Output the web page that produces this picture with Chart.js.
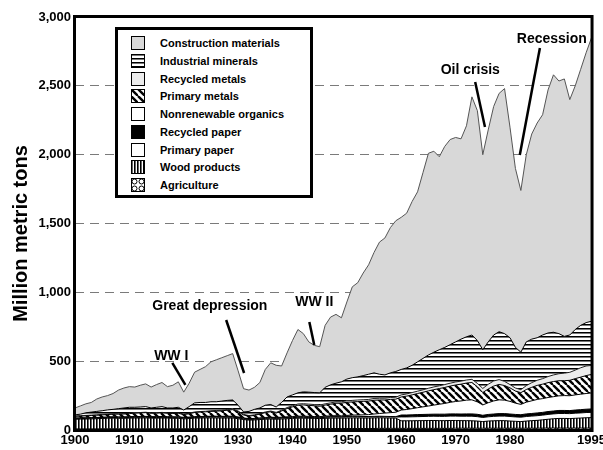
<!DOCTYPE html>
<html>
<head>
<meta charset="utf-8">
<script src="https://cdn.jsdelivr.net/npm/chart.js@4/dist/chart.umd.min.js"></script>
<style>
html,body{margin:0;padding:0;background:#fff;overflow:hidden;width:603px;height:450px;}
#c{position:absolute;left:0;top:0;}
#legend{position:absolute;left:115px;top:27px;width:192px;height:165px;border:3px solid #000;background:#fff;
  font:bold 11px "Liberation Sans",Arial,sans-serif;color:#000;}
.row{position:absolute;left:0;width:190px;height:16px;}
.row canvas{position:absolute;left:13px;top:1px;}
.row span{position:absolute;left:42px;top:0;line-height:16px;white-space:nowrap;}
</style>
</head>
<body>
<canvas id="c" width="609" height="450"></canvas>
<div id="legend"></div>
<script>
// ---------- DATA ----------
const years = Array.from({length: 96}, (_, i) => 1900 + i);
const xTickValues = [1900, 1910, 1920, 1930, 1940, 1950, 1960, 1970, 1980, 1995];
const xTickLabels = ['1900', '1910', '1920', '1930', '1940', '1950', '1960', '1970', '1980', '1995'];
const yTickValues = [0, 500, 1000, 1500, 2000, 2500, 3000];
const yTickLabels = ['0', '500', '1,000', '1,500', '2,000', '2,500', '3,000'];
const yAxisTitle = 'Million metric tons';

const seriesNames = ['Agriculture', 'Wood products', 'Primary paper', 'Recycled paper',
  'Nonrenewable organics', 'Primary metals', 'Recycled metals', 'Industrial minerals', 'Construction materials'];

const agriculture = [
  8,8,8,8,8,9,9,9,9,9, 9,9,9,9,9,9,9,9,9,9,
  9,9,10,10,10,10,10,10,10,10, 10,10,10,10,10,10,10,10,10,10,
  10,10,10,10,10,10,11,11,11,11, 11,11,11,11,11,11,12,12,12,12,
  12,12,12,12,12,12,12,12,12,12, 13,13,13,13,13,13,13,13,13,13,
  13,13,13,13,13,13,14,14,14,14, 14,14,14,14,14,14];
const woodProducts = [
  70,71,72,73,74,75,76,77,76,76, 77,78,78,79,77,77,78,77,76,76,
  72,74,76,77,78,78,78,77,77,77, 72,66,62,63,66,68,70,68,70,72,
  74,76,76,75,74,73,74,75,76,75, 76,77,77,76,76,77,77,76,75,74,
  55,55,55,56,56,57,57,56,56,57, 56,55,55,54,52,48,52,54,55,55,
  52,50,48,52,55,57,60,64,68,70, 70,69,71,73,75,76];
const primaryPaper = [
  4,4,4,4,4,4,4,5,5,5, 5,5,5,5,5,5,5,5,5,5,
  5,5,5,5,5,6,6,6,6,6, 6,5,5,5,5,6,6,6,6,6,
  6,6,6,6,6,6,7,7,7,7, 8,8,8,8,8,8,8,8,8,8,
  28,28,29,29,30,30,31,31,31,32, 32,32,32,33,32,30,31,32,33,33,
  33,32,32,33,33,34,34,35,35,36, 36,36,37,37,38,38];
const recycledPaper = [
  3,3,3,3,3,3,3,3,3,3, 3,3,3,3,3,3,3,3,3,3,
  3,3,3,3,3,3,3,3,3,3, 3,3,3,3,3,3,3,3,3,3,
  3,3,3,3,3,3,3,3,3,3, 3,3,3,3,3,3,3,3,3,3,
  14,14,14,15,15,15,15,16,16,16, 16,16,17,17,17,16,17,17,18,18,
  18,18,18,19,19,20,20,21,21,22, 22,22,23,24,24,25];
const nonrenewableOrganics = [
  2,2,2,2,2,2,2,2,2,2, 3,3,3,3,3,3,3,3,3,3,
  3,3,3,3,3,3,3,3,4,4, 4,3,3,3,4,4,4,4,4,5,
  5,5,5,5,5,5,6,6,7,7, 8,9,10,12,14,17,20,24,28,32,
  36,40,45,50,55,60,66,72,78,84, 90,95,100,102,90,75,85,95,100,98,
  92,82,75,85,92,98,100,102,104,106, 108,108,110,112,114,116];
const primaryMetals = [
  12,13,14,15,16,17,18,19,20,21, 22,24,26,27,24,25,27,24,24,25,
  20,24,30,32,33,35,37,40,44,48, 38,22,18,22,28,35,40,32,45,60,
  70,80,82,80,78,75,80,85,90,92, 95,96,97,98,98,100,98,95,96,95,
  95,97,100,103,106,110,112,114,116,118, 120,122,124,126,110,90,100,108,112,106,
  98,88,85,92,98,102,105,108,110,110, 108,112,118,124,130,135];
const recycledMetals = [
  3,3,3,3,3,3,3,3,3,3, 3,3,3,3,3,3,3,3,3,3,
  4,4,4,4,4,5,5,5,5,6, 5,4,4,4,4,5,5,5,6,7,
  8,9,9,9,9,9,9,10,10,10, 11,11,12,12,12,13,13,13,14,14,
  15,16,17,17,18,19,20,20,21,21, 22,22,22,23,25,30,34,37,35,30,
  24,22,22,28,34,37,40,44,48,51, 55,58,62,68,70,65];
const industrialMinerals = [
  8,11,19,22,25,27,31,32,37,41, 43,40,40,41,36,40,42,36,37,41,
  29,48,66,66,64,65,63,66,66,64, 42,18,30,40,40,49,47,39,56,77,
  79,81,86,87,87,89,120,131,136,145, 158,165,168,175,183,186,174,169,179,187,
  185,189,198,213,228,242,252,262,270,280, 291,305,314,322,311,281,308,334,348,347,
  340,295,272,318,316,309,317,317,310,291, 267,271,295,308,315,321];
const constructionMaterials = [
  50,60,65,70,90,100,104,115,135,145, 150,147,158,165,152,165,175,155,165,185,
  130,170,223,240,260,290,305,315,325,337, 250,169,155,160,185,260,303,303,265,320,
  395,460,423,365,343,335,450,492,500,465, 560,660,684,745,795,875,960,995,1055,1095,
  1105,1124,1190,1235,1350,1465,1460,1402,1460,1490, 1485,1455,1533,1730,1670,1417,1540,1660,1731,1780,
  1530,1300,1175,1360,1490,1560,1600,1765,1870,1835, 1870,1710,1770,1860,1960,2060];

const seriesValues = [agriculture, woodProducts, primaryPaper, recycledPaper,
  nonrenewableOrganics, primaryMetals, recycledMetals, industrialMinerals, constructionMaterials];

// annotation texts with their anchor (year, value) and pointer segments
const annotationLabels = ['WW I', 'Great depression', 'WW II', 'Oil crisis', 'Recession'];
const annotationText = [[1917.7, 537], [1924.8, 900], [1944.0, 930], [1972.7, 2615], [1987.7, 2840]];
const annotationFrom = [[1917.9, 487], [1927.8, 799], [1943.1, 784], [1973.6, 2528], [1985.5, 2775]];
const annotationTo = [[1920.3, 327], [1931.1, 414], [1944.0, 617], [1975.4, 2201], [1981.8, 1998]];

// ---------- STYLES ----------
const FONT = '"Liberation Sans", Arial, Helvetica, sans-serif';
function makePattern(kind, g) {
  const c = document.createElement('canvas');
  let p;
  if (kind === 'hlines') {
    c.width = 4; c.height = 4; p = c.getContext('2d');
    p.fillStyle = '#fff'; p.fillRect(0, 0, 4, 4);
    p.fillStyle = '#000'; p.fillRect(0, 0, 4, 1);
    p.fillStyle = '#777'; p.fillRect(0, 1, 4, 1);
  } else if (kind === 'vlines') {
    c.width = 3; c.height = 3; p = c.getContext('2d');
    p.fillStyle = '#fff'; p.fillRect(0, 0, 3, 3);
    p.fillStyle = '#000'; p.fillRect(0, 0, 1, 3);
    p.fillStyle = '#666'; p.fillRect(1, 0, 1, 3);
  } else if (kind === 'diag') {
    c.width = 7; c.height = 7; p = c.getContext('2d');
    p.fillStyle = '#fff'; p.fillRect(0, 0, 7, 7);
    p.strokeStyle = '#000'; p.lineWidth = 2.4;
    for (const o of [-7, 0, 7]) { p.beginPath(); p.moveTo(o, 0); p.lineTo(o + 7, 7); p.stroke(); }
  } else if (kind === 'circles') {
    c.width = 7; c.height = 7; p = c.getContext('2d');
    p.fillStyle = '#fff'; p.fillRect(0, 0, 7, 7);
    p.strokeStyle = '#000'; p.lineWidth = 1;
    p.beginPath(); p.arc(3.5, 3.5, 2.5, 0, Math.PI * 2); p.stroke();
  }
  return g.createPattern(c, 'repeat');
}
const styleKinds = ['circles', 'vlines', '#ffffff', '#000000', '#ffffff', 'diag', '#ececec', 'hlines', '#d8d8d8'];
const borderColors = ['#000', '#000', '#000', '#000', '#000', '#000', '#222', '#000', '#555'];
function fillFor(kind, g) { return kind.startsWith('#') ? kind : makePattern(kind, g); }

const canvas = document.getElementById('c');
const ctx = canvas.getContext('2d');

const datasets = seriesNames.map((name, i) => ({
  label: name,
  data: seriesValues[i],
  backgroundColor: fillFor(styleKinds[i], ctx),
  borderColor: borderColors[i],
  borderWidth: 1,
  pointRadius: 0,
  tension: 0,
  fill: i === 0 ? 'origin' : '-1'
}));

const annotationPlugin = {
  id: 'annotations',
  afterDatasetsDraw(chart) {
    const g = chart.ctx, xs = chart.scales.x, ys = chart.scales.y;
    g.save();
    g.strokeStyle = '#000'; g.lineWidth = 2.5; g.lineCap = 'butt';
    annotationLabels.forEach((t, i) => {
      g.beginPath();
      g.moveTo(xs.getPixelForValue(annotationFrom[i][0]), ys.getPixelForValue(annotationFrom[i][1]));
      g.lineTo(xs.getPixelForValue(annotationTo[i][0]), ys.getPixelForValue(annotationTo[i][1]));
      g.stroke();
    });
    g.fillStyle = '#000';
    g.font = 'bold 14px ' + FONT;
    g.textAlign = 'center'; g.textBaseline = 'middle';
    annotationLabels.forEach((t, i) => {
      g.fillText(t, xs.getPixelForValue(annotationText[i][0]), ys.getPixelForValue(annotationText[i][1]));
    });
    g.restore();
  }
};
const framePlugin = {
  id: 'frame',
  afterDraw(chart) {
    const g = chart.ctx, a = chart.chartArea;
    g.save();
    g.strokeStyle = '#000'; g.lineWidth = 3;
    g.strokeRect(a.left - 0.5, a.top - 0.5, a.right - a.left + 1, a.bottom - a.top + 1);
    // y-axis title, slightly below the axis centre as in the reference
    g.fillStyle = '#000';
    g.font = 'bold 20px ' + FONT;
    g.textAlign = 'center'; g.textBaseline = 'middle';
    g.translate(21, (a.top + a.bottom) / 2 + 10);
    g.rotate(-Math.PI / 2);
    g.fillText(yAxisTitle, 0, 0);
    g.restore();
  }
};

new Chart(ctx, {
  type: 'line',
  data: { labels: years, datasets },
  options: {
    responsive: false, animation: false, devicePixelRatio: 1,
    layout: { padding: { top: 17, left: 0, right: 0, bottom: 0 } },
    plugins: { legend: { display: false }, tooltip: { enabled: false } },
    scales: {
      x: {
        type: 'linear', min: 1900, max: 1995,
        afterBuildTicks: s => { s.ticks = xTickValues.map(v => ({ value: v })); },
        ticks: {
          autoSkip: false, maxRotation: 0, color: '#000', padding: 3,
          font: { family: FONT, weight: 'bold', size: 13 },
          callback: v => { const k = xTickValues.indexOf(v); return k >= 0 ? xTickLabels[k] : ''; }
        },
        grid: { display: false, drawTicks: false },
        border: { display: false },
        afterFit: s => { s.height = 20; }
      },
      y: {
        stacked: true, min: 0, max: 3000,
        afterBuildTicks: s => { s.ticks = yTickValues.map(v => ({ value: v })); },
        ticks: {
          color: '#000', padding: 4,
          font: { family: FONT, weight: 'bold', size: 13 },
          callback: v => { const k = yTickValues.indexOf(v); return k >= 0 ? yTickLabels[k] : ''; }
        },
        grid: {
          drawTicks: false, lineWidth: 1,
          color: c => (c.tick && c.tick.value > 0 && c.tick.value < 3000) ? '#7a7a7a' : 'rgba(0,0,0,0)'
        },
        border: { display: false, dash: [9, 6] },
        afterFit: s => { s.width = 75; }
      }
    }
  },
  plugins: [annotationPlugin, framePlugin]
});

// ---------- LEGEND (HTML, from the datasets) ----------
const legend = document.getElementById('legend');
seriesNames.slice().reverse().forEach((name, k) => {
  const i = seriesNames.length - 1 - k;
  const row = document.createElement('div');
  row.className = 'row';
  row.style.top = (5 + k * 17.75) + 'px';
  const sw = document.createElement('canvas');
  sw.width = 14; sw.height = 14;
  const sg = sw.getContext('2d');
  sg.fillStyle = fillFor(styleKinds[i], sg);
  sg.fillRect(0, 0, 14, 14);
  sg.strokeStyle = '#000'; sg.lineWidth = 1;
  sg.strokeRect(0.5, 0.5, 13, 13);
  const sp = document.createElement('span');
  sp.textContent = name;
  row.appendChild(sw); row.appendChild(sp);
  legend.appendChild(row);
});
</script>
</body>
</html>
